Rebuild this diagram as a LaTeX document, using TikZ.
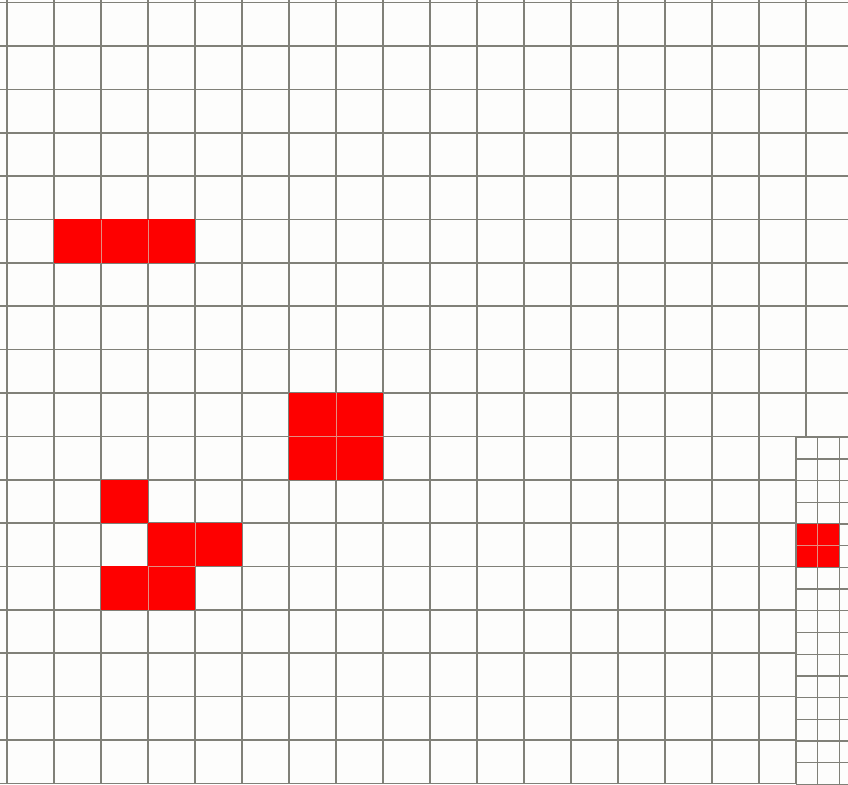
\documentclass[tikz,border=0pt]{standalone}
\definecolor{gridgray}{RGB}{128,128,120}
\definecolor{cellred}{RGB}{254,0,0}
\definecolor{innerline}{RGB}{228,140,128}
\definecolor{paper}{RGB}{253,253,252}
\begin{document}
\begin{tikzpicture}[x=1pt,y=-1pt,
  gridline/.style={draw=gridgray,line width=1.7pt},
  finegrid/.style={draw=gridgray,line width=1.3pt},
  redcell/.style={fill=cellred},
  redseam/.style={draw=innerline,line width=0.9pt}]
\useasboundingbox (0,0) rectangle (848,784);
\fill[paper] (0,0) rectangle (848,784);
% main grid
\foreach \k in {0,...,17} \draw[gridline] ({7+47*\k},0) -- ({7+47*\k},784);
\foreach \k in {0,...,18} \draw[gridline] (0,{2.6+43.375*\k}) -- (848,{2.6+43.375*\k});
% red cells
\foreach \c/\r in {1/5,2/5,3/5,6/9,7/9,6/10,7/10,2/11,3/12,4/12,2/13,3/13}
  \fill[redcell] ({7+47*\c},{2.6+43.375*\r}) rectangle ++(47,43.375);
% seams between adjacent red cells
\draw[redseam] (101,219.5) -- (101,262.9);
\draw[redseam] (148,219.5) -- (148,262.9);
\draw[redseam] (336,393) -- (336,479.8);
\draw[redseam] (289,436.35) -- (383,436.35);
\draw[redseam] (195,523) -- (195,566.4);
\draw[redseam] (148,566.4) -- (195,566.4);
\draw[redseam] (148,566.4) -- (148,609.8);
% inset with finer grid
\fill[paper] (796,437.2) rectangle (848,784);
\foreach \k in {0,...,16} \draw[finegrid] (796,{437.2+21.7*\k}) -- (848,{437.2+21.7*\k});
\draw[finegrid] (817.6,437.2) -- (817.6,784);
\draw[finegrid] (839.3,437.2) -- (839.3,784);
\fill[redcell] (796,524) rectangle (839.3,567.4);
\draw[redseam] (817.6,524) -- (817.6,567.4);
\draw[redseam] (796,545.7) -- (839.3,545.7);
\draw[gridline] (796,437.2) -- (796,784);
\end{tikzpicture}
\end{document}
